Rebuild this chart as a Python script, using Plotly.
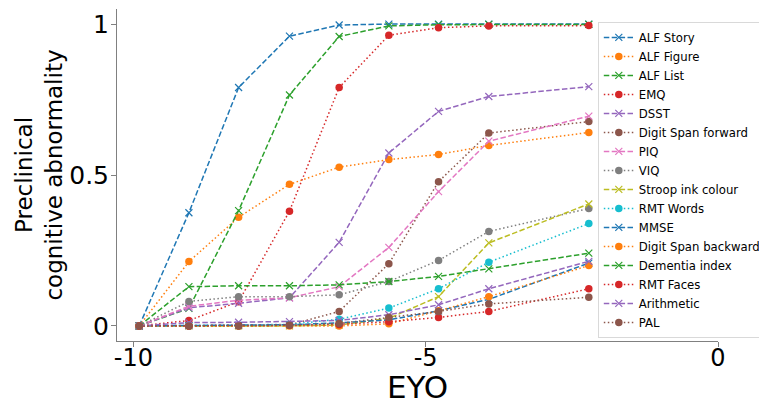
import plotly.graph_objects as go

eyo = [-9.9, -9.05, -8.2, -7.33, -6.48, -5.63, -4.78, -3.92, -2.21]

names = ["ALF Story", "ALF Figure", "ALF List", "EMQ", "DSST", "Digit Span forward",
         "PIQ", "VIQ", "Stroop ink colour", "RMT Words", "MMSE", "Digit Span backward",
         "Dementia index", "RMT Faces", "Arithmetic", "PAL"]

alf_story = [0, 0.375, 0.79, 0.96, 0.997, 1.0, 1.0, 1.0, 1.0]
alf_figure = [0, 0.213, 0.36, 0.469, 0.526, 0.551, 0.568, 0.598, 0.641]
alf_list = [0, 0.058, 0.382, 0.765, 0.959, 0.994, 0.998, 0.999, 0.999]
emq = [0, 0.018, 0.08, 0.38, 0.79, 0.963, 0.988, 0.994, 0.995]
dsst = [0, 0.06, 0.075, 0.093, 0.277, 0.573, 0.711, 0.76, 0.793]
digit_fwd = [0, 0, 0, 0.003, 0.048, 0.206, 0.478, 0.639, 0.677]
piq = [0, 0.065, 0.085, 0.093, 0.13, 0.26, 0.445, 0.612, 0.695]
viq = [0, 0.081, 0.097, 0.097, 0.103, 0.147, 0.217, 0.313, 0.389]
stroop = [0, 0, 0, 0, 0.003, 0.025, 0.097, 0.275, 0.404]
rmt_words = [0, 0.002, 0.003, 0.005, 0.022, 0.059, 0.123, 0.211, 0.339]
mmse = [0, 0.001, 0.002, 0.004, 0.01, 0.02, 0.05, 0.088, 0.208]
digit_bwd = [0, 0, 0, 0, 0, 0.007, 0.05, 0.097, 0.2]
dementia = [0, 0.13, 0.133, 0.133, 0.136, 0.147, 0.164, 0.189, 0.241]
rmt_faces = [0, 0, 0.001, 0.002, 0.005, 0.014, 0.028, 0.048, 0.123]
arithmetic = [0, 0.011, 0.012, 0.014, 0.018, 0.037, 0.07, 0.123, 0.214]
pal = [0, 0, 0, 0.002, 0.008, 0.028, 0.048, 0.073, 0.095]

series = [alf_story, alf_figure, alf_list, emq, dsst, digit_fwd, piq, viq, stroop,
          rmt_words, mmse, digit_bwd, dementia, rmt_faces, arithmetic, pal]

colors = ["#1f77b4", "#ff7f0e", "#2ca02c", "#d62728", "#9467bd",
          "#8c564b", "#e377c2", "#7f7f7f", "#bcbd22", "#17becf"]

x_tickvals = [-10, -5, 0]
x_ticktext = ["-10", "-5", "0"]
y_tickvals = [0, 0.5, 1]
y_ticktext = ["0", "0.5", "1"]

FONT = "DejaVu Sans"

fig = go.Figure()
for i, (name, vals) in enumerate(zip(names, series)):
    c = colors[i % len(colors)]
    if i % 2 == 0:
        line = dict(color=c, width=1.5, dash="5.5px,2.4px")
        marker = dict(symbol="x-thin", size=7, color=c, line=dict(width=1.2, color=c))
    else:
        line = dict(color=c, width=1.5, dash="1.5px,2.5px")
        marker = dict(symbol="circle", size=7.5, color=c, line=dict(width=0))
    fig.add_trace(go.Scatter(x=eyo, y=vals, name=name, mode="lines+markers",
                             line=line, marker=marker))

axis_common = dict(showline=True, linecolor="#808080", linewidth=1, ticks="outside",
                   ticklen=5, tickcolor="#808080", showgrid=False, zeroline=False,
                   automargin=False)

fig.update_layout(
    width=759, height=397,
    margin=dict(l=109, r=49, t=1, b=64, autoexpand=False),
    paper_bgcolor="white", plot_bgcolor="white",
    font=dict(family=FONT, color="black"),
    xaxis=dict(range=[-10.28, 0], tickvals=x_tickvals, ticktext=x_ticktext,
               tickfont=dict(family=FONT, size=24, color="black"),
               ticklabelstandoff=-10,
               title=dict(text="EYO", font=dict(family=FONT, size=31), standoff=3),
               **axis_common),
    yaxis=dict(range=[-0.05, 1.05], tickvals=y_tickvals, ticktext=y_ticktext,
               tickfont=dict(family=FONT, size=25, color="black"),
               ticklabelstandoff=-3,
               title=dict(text="Preclinical<br>cognitive abnormality",
                          font=dict(family=FONT, size=23), standoff=0),
               **axis_common),
    legend=dict(x=0.800, y=0.961, xanchor="left", yanchor="top",
                font=dict(family=FONT, size=11.7, color="black"),
                bgcolor="rgba(255,255,255,0.85)", bordercolor="#d9d9d9", borderwidth=1,
                itemwidth=30, tracegroupgap=0),
    showlegend=True,
)

fig.write_html("out.html")
